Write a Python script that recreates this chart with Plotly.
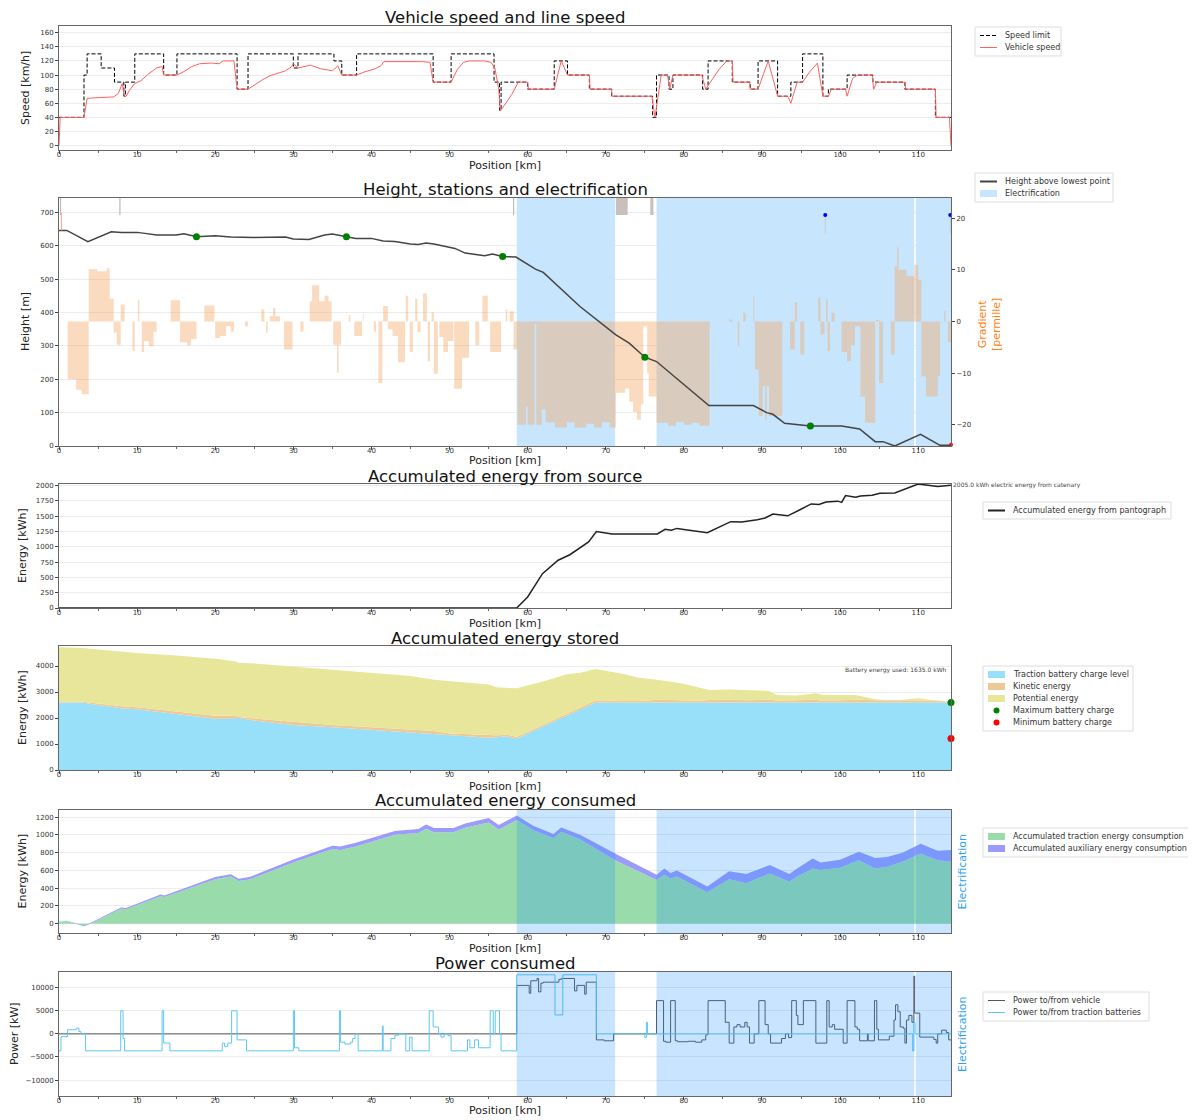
import plotly.graph_objects as go

# Page body has an 8px margin: the figure is laid out in reference pixels shifted by OFF.
OFF = 8
FW, FH = 1188, 1112
X0, X1 = 59, 951
XMAX = 114.2
FONT = "DejaVu Sans"

# ---------------- DATA ----------------
# Panel 1: speed limit (step) and vehicle speed, (km, km/h)
speed_limit = [(0, 40), (3.2, 100), (3.6, 130), (5.4, 110), (7.1, 90), (8.3, 70), (8.5, 90), (9.7, 130),
               (13.4, 100), (15.1, 130), (22.8, 80), (24.2, 130), (30.0, 110), (30.6, 130), (35.2, 120),
               (36.2, 100), (38.1, 130), (47.9, 90), (50.2, 130), (55.7, 90), (56.4, 50), (56.6, 90),
               (60.0, 80), (63.4, 120), (65.1, 100), (67.9, 80), (70.75, 70), (76.0, 40), (76.5, 100),
               (78.1, 80), (78.6, 100), (82.4, 80), (83.1, 120), (86.2, 90), (88.5, 80), (89.5, 120),
               (92.0, 70), (93.7, 90), (95.2, 130), (97.8, 70), (98.5, 80), (100.9, 100), (104.2, 90),
               (108.3, 80), (112.2, 40), (114.2, 40)]
vehicle_speed = [(0, 0), (0.15, 40), (3.2, 40), (3.6, 67), (5.0, 68), (7.0, 69), (7.6, 74), (8.1, 88),
                 (8.35, 70), (8.6, 70), (9.0, 78), (9.7, 88), (10.5, 92), (11.5, 102), (12.5, 110),
                 (13.2, 112), (13.4, 100), (15.1, 100), (16.0, 105), (17.0, 112), (18.0, 116), (19.5, 117),
                 (20.5, 116), (21.0, 120), (22.4, 120), (22.8, 80), (24.2, 80), (25.0, 86), (26.0, 93),
                 (27.0, 99), (28.0, 103), (29.0, 106), (29.8, 112), (30.0, 116), (30.6, 110), (31.5, 112),
                 (32.2, 114), (33.5, 109), (35.0, 106), (35.7, 113), (36.2, 100), (38.1, 100), (39.0, 104),
                 (40.5, 109), (41.2, 113), (41.6, 119), (42.5, 119), (44.0, 120), (45.5, 119), (46.5, 119),
                 (47.5, 118), (47.9, 90), (50.2, 90), (51.0, 108), (51.8, 118), (52.5, 120), (54.5, 120),
                 (55.3, 118), (55.8, 110), (56.3, 80), (56.5, 49), (57.3, 62), (58.0, 73), (58.8, 90),
                 (60.0, 90), (60.1, 80), (63.4, 80), (64.3, 120), (65.1, 100), (67.9, 100), (68.0, 80),
                 (70.75, 80), (70.8, 70), (75.9, 70), (76.3, 40), (77.1, 100), (77.9, 100), (78.2, 80),
                 (78.6, 100), (82.3, 100), (82.8, 80), (83.1, 85), (84.5, 108), (85.5, 120), (86.2, 120),
                 (86.3, 90), (88.4, 90), (88.5, 80), (89.5, 80), (90.8, 120), (92.0, 70), (93.3, 70),
                 (93.7, 60), (94.5, 90), (95.2, 90), (96.0, 103), (97.1, 117), (97.8, 70), (98.5, 70),
                 (98.9, 80), (100.7, 80), (100.9, 70), (101.6, 95), (102.2, 100), (104.1, 100), (104.3, 80),
                 (104.7, 90), (108.3, 90), (108.4, 80), (112.2, 80), (112.3, 40), (114.0, 40), (114.2, 0)]

# Panel 2: height profile (km, m), stations, gradient steps (km, permille), electrification
height = [(0, 646), (1, 646), (3.7, 612), (5, 625), (6.7, 642), (8, 640), (10, 640), (11, 637), (12.5, 632),
          (15, 632), (16, 636), (17.6, 627), (19, 628), (20, 630), (22, 626), (25, 625), (29, 626),
          (30, 620), (32, 619), (34, 632), (35, 635), (36.8, 627), (38, 622), (40, 622), (41.5, 614),
          (43, 613), (45, 605), (46, 604), (47, 608), (48, 605), (49.5, 597), (50.7, 592), (52, 578),
          (53.5, 574), (54.5, 570), (55.5, 575), (56.8, 568), (58.5, 566), (60, 545), (61, 530),
          (62, 520), (66.7, 418), (71.3, 333), (73.0, 308), (75.0, 266), (76.5, 253), (83.2, 121),
          (88.9, 121), (90.6, 100), (91.4, 95), (92.9, 68), (96.2, 60), (100.2, 60), (102.5, 51),
          (104.5, 13), (105.5, 13), (107.0, 0), (110.3, 35), (112.8, 2), (114.2, 2)]
stations = [(17.6, 627), (36.8, 627), (56.8, 568), (75.0, 266), (96.2, 60)]
gradient = [(0, 0), (1.1, -11.2), (2.2, -13.2), (2.9, -14.1), (3.8, 10.1), (4.9, 9.7), (6.1, 10.3), (6.5, 4.4),
            (7.0, -2.2), (7.4, -4.5), (7.9, 3.3), (8.4, 0), (9.4, -5.7), (9.7, 0), (10.1, 4.1), (10.3, 0),
            (10.6, -5.9), (10.9, -3.8), (11.5, -4.8), (12.1, -2.0), (12.5, 0), (14.3, 4.1), (15.5, -4.0),
            (16.4, -4.6), (16.9, -3.4), (17.6, 0), (18.6, 3.1), (19.9, 0), (20.0, -3.2), (20.6, -2.8),
            (21.4, -0.9), (22.0, -2.0), (22.4, 0), (23.8, -0.9), (24.2, 0), (25.9, 2.3), (26.3, 0),
            (26.5, -2.2), (26.7, 0), (27.0, 1.0), (27.4, 2.6), (27.7, 1.0), (28.3, 0), (28.8, -5.4),
            (29.9, 0), (30.9, -2.0), (31.3, 0), (32.1, 3.9), (32.4, 7.0), (33.3, 3.9), (34.0, 5.0),
            (34.5, 3.9), (34.9, 0), (35.1, -4.5), (35.6, -9.9), (35.8, -4.5), (36.1, 0), (37.1, 1.2),
            (37.3, 0), (37.8, -2.8), (38.8, 0), (38.9, 1.5), (39.0, 0), (40.3, -2.0), (40.6, 0),
            (40.9, -11.9), (41.4, 0), (41.5, 3.0), (42.1, -1.5), (42.7, -2.8), (43.4, -7.9), (44.3, 0),
            (44.4, 5.0), (44.7, 0), (44.9, -5.9), (45.3, 0), (45.6, 4.4), (45.9, -2.1), (46.3, 0),
            (46.6, 5.4), (47.1, 0), (47.2, -7.7), (47.5, 0), (47.7, 1.8), (48.0, -10.1), (48.5, 0),
            (48.7, -3.0), (49.2, -5.9), (49.8, -3.8), (50.5, 0), (50.6, -13.0), (51.6, -7.0), (52.5, 0),
            (53.3, -4.6), (53.8, 0), (54.2, 5.0), (54.9, 0), (55.2, -5.9), (56.6, 0), (57.2, 2.3),
            (57.4, 0), (57.7, 2.0), (58.2, -5.4), (58.7, -20.0), (59.8, -16.4), (60.0, -20.0),
            (60.9, -0.5), (61.1, -20.0), (61.8, -17.0), (62.3, -19.5), (63.5, -20.5), (65.0, -19.5),
            (66.0, -20.5), (67.5, -19.8), (68.5, -20.5), (69.5, -19.5), (70.5, -20.5), (71.3, -13.8),
            (72.5, -13.0), (73.0, -15.5), (73.5, -17.5), (74.0, -19.0), (74.5, -16.0), (74.8, -0.9),
            (75.3, -10.0), (75.5, -14.5), (76.5, -19.6), (78.0, -20.2), (79.0, -19.4), (80.0, -20.0),
            (81.0, -19.6), (82.0, -20.2), (83.3, 0), (85.8, 0.4), (86.2, 0), (86.9, -4.8), (87.1, 0),
            (87.6, 1.7), (87.9, 0), (88.9, 5.0), (89.0, 0), (89.1, -9.3), (89.6, -18.3), (90.1, -12.5),
            (90.4, -19.0), (90.6, -12.5), (90.9, -18.3), (92.6, 0), (93.6, -5.4), (94.2, 3.7), (94.5, 0),
            (94.9, -6.4), (95.4, 0), (97.2, 4.6), (97.5, -2.5), (98.0, 0), (98.2, 4.3), (98.4, -5.7),
            (98.7, 0), (98.9, 1.7), (99.3, 0), (100.2, -5.9), (100.9, -7.7), (101.4, -4.6), (101.9, -0.9),
            (102.6, -14.5), (103.2, -19.6), (104.5, 0), (104.6, 0.3), (105.0, -11.9), (105.5, 0),
            (106.5, -6.4), (107.0, 10.7), (107.3, 14.3), (107.5, 10.0), (108.5, 8.8), (109.5, 11.0),
            (110.0, 8.1), (110.4, -10.6), (111.0, -14.5), (112.5, -10.6), (112.8, 0), (113.3, 2.0),
            (113.5, 0), (113.8, -4.0), (114.2, -4.0)]
elec_start = [58.6, 76.5, 109.7]
elec_end = [71.2, 109.5, 114.2]
signal_x = [98.1, 114.1]          # blue markers at top (gradient axis value 20.6)
signal_y = [20.6, 20.6]
top_tick_x = [0.2, 7.8, 58.2]     # thin grey marks at the top
top_block_start = [71.3, 75.7]
top_block_end = [72.8, 76.1]

# Panel 3: accumulated energy from pantograph (km, kWh)
pantograph = [(0, 0), (58.6, 0), (60.0, 180), (61.9, 560), (63.9, 780), (65.4, 870), (67.8, 1080),
              (68.8, 1250), (70.8, 1210), (76.6, 1210), (77.6, 1285), (78.4, 1270), (79.1, 1300),
              (83.0, 1230), (86.0, 1410), (87.4, 1405), (89.4, 1440), (90.4, 1470), (91.4, 1535),
              (93.3, 1505), (94.8, 1600), (96.3, 1700), (97.3, 1690), (98.2, 1730), (99.7, 1745),
              (100.2, 1725), (100.7, 1835), (102.0, 1810), (102.6, 1830), (104.1, 1840), (105.1, 1875),
              (107.0, 1880), (110.0, 2025), (111.0, 2010), (112.5, 1985), (114.2, 2005)]

# Panel 4: stored energy (kWh)
stored_x = [0, 3, 5, 8, 10, 15, 20, 22.5, 23, 25, 30, 35, 40, 45, 48, 50, 55, 56, 57.3, 58.6, 62, 65, 66.7,
            68.7, 71.8, 74.3, 76.8, 79.8, 81.8, 83.3, 85.8, 88.4, 90.9, 91.9, 94.4, 96.9, 97.9, 102, 104.5,
            107, 110, 112, 114.2]
battery = [2590, 2600, 2500, 2380, 2333, 2150, 1974, 1990, 2000, 1900, 1731, 1640, 1538, 1440, 1400, 1346,
           1244, 1260, 1300, 1209, 1677, 2090, 2325, 2600, 2600, 2600, 2600, 2600, 2600, 2600, 2600, 2600,
           2600, 2600, 2600, 2600, 2600, 2600, 2600, 2600, 2600, 2600, 2600]
kinetic = [20, 25, 60, 70, 80, 90, 110, 110, 40, 80, 110, 90, 110, 120, 100, 60, 120, 80, 60, 70, 60, 80, 80,
           80, 50, 50, 100, 80, 60, 90, 100, 80, 110, 60, 70, 100, 50, 100, 80, 70, 80, 70, 20]
potential = [2110, 2065, 2080, 2110, 2087, 2160, 2196, 2080, 2090, 2120, 2139, 2120, 2070, 2060, 1970, 2014,
             1926, 1840, 1810, 1862, 1663, 1510, 1339, 1205, 1068, 901, 762, 650, 520, 387, 400, 397, 330,
             225, 200, 249, 235, 185, 38, 0, 76, 10, 8]
battery_max = 2600.0
battery_min = 1209.0
battery_used = 1635.0
catenary_total = 2005.0

# Panel 5: accumulated consumption (kWh)
cons_x = [0, 1, 2, 3.2, 4, 8, 8.5, 13, 13.5, 20, 22, 23, 24.5, 30, 35, 36, 38, 43, 46, 47, 48, 50.5, 52, 55,
          56.3, 58.6, 60.7, 63.3, 64.3, 66.7, 71.2, 74.8, 76.5, 77.5, 78.3, 79.1, 83.0, 85.8, 88.0, 91.0,
          93.5, 94.5, 96.5, 97.5, 100.0, 102.4, 104.5, 106.0, 108.0, 110.3, 112.5, 114.2]
traction_cons = [20, 30, 5, -30, 0, 170, 160, 310, 300, 500, 530, 480, 500, 690, 840, 830, 870, 1000, 1020,
                 1070, 1030, 1030, 1080, 1140, 1060, 1166, 1054, 961, 1035, 950, 715, 565, 492, 550, 510,
                 530, 355, 500, 454, 566, 473, 530, 622, 603, 629, 715, 622, 640, 696, 790, 715, 696]
aux_cons = [3, 4, 5, 6, 7, 14, 14, 18, 18, 25, 27, 27, 28, 33, 38, 38, 40, 44, 45, 46, 46, 48, 49, 50, 50,
            52, 50, 48, 48, 50, 75, 60, 58, 70, 60, 68, 64, 90, 106, 94, 87, 90, 113, 87, 91, 95, 118, 110,
            104, 110, 105, 134]

# Panel 6: power (kW), step data (km, kW)
battery_power = [(0, -3675), (0.25, -600), (1.1, 900), (2.2, 1250), (2.55, 500), (2.8, 0), (3.4, -3675),
                 (7.9, 5000), (8.2, -1000), (8.4, -3675), (13.2, 5000), (13.4, -2000), (14.2, -3675),
                 (20.9, -2000), (21.2, -2700), (21.6, -2000), (22.1, 5000), (22.8, -1300), (24.0, -3675),
                 (30.0, 5000), (30.15, -3000), (30.7, -3675), (35.9, 5000), (36.05, -1800), (36.6, -2200),
                 (37.3, -1800), (37.6, -1000), (37.9, 0), (38.3, -3675), (41.4, 1700), (41.5, -3675),
                 (42.5, -1000), (43.0, -300), (43.5, 0), (44.4, -3675), (44.9, -700), (45.2, -3675),
                 (47.4, 5000), (47.9, 1500), (48.6, 0), (48.9, -700), (49.3, 0), (49.8, -400),
                 (50.2, -3675), (52.3, -1300), (52.6, -3000), (53.2, -1300), (53.7, -3000), (55.2, 5000),
                 (55.6, 0), (55.85, 5000), (56.4, 0), (56.6, -3675), (58.6, 12800), (63.5, 4100),
                 (64.5, 12800), (68.8, 0), (75.0, -800), (75.2, 2500), (75.35, 0), (109.3, -3700),
                 (109.45, 2500), (109.6, 0), (114.2, 0)]
vehicle_power = [(0, 0), (58.6, 10500), (60.2, 8800), (60.4, 11500), (61.2, 12000), (61.4, 9100),
                 (61.7, 11000), (62.0, 11200), (64.0, 11800), (64.3, 12000), (66.0, 9300), (66.3, 10500),
                 (67.3, 8600), (67.5, 11200), (68.8, -1300), (69.8, -1500), (71.0, 0), (76.5, 7200),
                 (77.4, -1600), (77.7, -1800), (78.3, 7200), (78.9, -1500), (79.2, -1700), (80.5, -1600),
                 (81.5, -1800), (82.3, -1300), (82.8, -200), (83.1, 7200), (85.3, 2500), (85.8, -2000),
                 (86.4, 1500), (86.8, 2000), (87.2, 1500), (87.8, 2500), (88.1, 1500), (88.4, -2000),
                 (89.0, 0), (89.6, 7200), (90.4, 2000), (90.8, 0), (91.1, -2000), (92.5, -1000), (93.0, 0),
                 (93.4, -800), (93.8, 7200), (94.4, 4000), (94.6, 2000), (95.3, 7200), (96.9, -2000),
                 (98.3, 7200), (98.6, 1500), (99.0, 2000), (99.3, 1000), (100.4, -2000), (100.9, 7200),
                 (101.9, 1500), (102.2, 1000), (102.5, -1500), (103.5, 0), (103.6, -1500), (104.4, 7200),
                 (104.7, 1000), (104.9, -1300), (106.3, -500), (106.9, 3000), (107.1, 6300), (107.4, 4800),
                 (107.7, 1500), (108.1, 1200), (108.3, -2000), (108.5, 3000), (108.8, 4000), (109.2, 2500),
                 (109.45, 12500), (109.55, 4500), (110.2, -700), (112.0, -1200), (112.3, -2000),
                 (112.5, 0), (113.0, 800), (113.6, 300), (113.9, -1300), (114.2, -1300)]

# Axis ticks
x_ticks = list(range(0, 111, 10))
speed_ticks = list(range(0, 161, 20))
height_ticks = list(range(0, 701, 100))
grad_ticks = [-20, -10, 0, 10, 20]
source_ticks = list(range(0, 2001, 250))
stored_ticks = [0, 1000, 2000, 3000, 4000]
cons_ticks = list(range(0, 1201, 200))
power_ticks = [-10000, -5000, 0, 5000, 10000]

# Colours
C_LIMIT, C_SPEED = "black", "#ff6161"
C_HEIGHT, C_ELEC = "#444444", "rgb(199,229,252)"
C_GRAD = "rgba(244,164,96,0.4)"
C_PANT = "#222222"
C_BATT, C_KIN, C_POT = "#98dffa", "#efc995", "#e8e69a"
C_TRAC, C_AUX = "#99dbaa", "#9b9bfb"
C_ELEC_OVER = "rgba(30,144,255,0.24)"
C_VPOW, C_BPOW = "#555555", "#5cc8f2"


# ---------------- HELPERS ----------------
def PX(p):
    return (p - OFF) / FW


def PY(p):
    return 1 - (p - OFF) / FH


def xs(pairs):
    return [p[0] for p in pairs]


def ys(pairs):
    return [p[1] for p in pairs]


def band(starts, ends, lo, hi):
    bx, by = [], []
    for s, e in zip(starts, ends):
        bx += [s, s, e, e, s, None]
        by += [lo, hi, hi, lo, lo, None]
    return bx, by


PANELS = [(26, 150), (198, 446), (484, 608), (646, 770), (810, 933), (972, 1096)]
XDOM = [PX(X0), PX(X1)]
TICKFONT = dict(size=7, color="#333", family=FONT)


def xcfg(anchor):
    return dict(domain=XDOM, anchor=anchor, range=[0, XMAX], tickmode="array", tickvals=x_ticks,
                ticks="outside", ticklen=3, tickwidth=1, tickcolor="#444", tickfont=TICKFONT,
                ticklabelstandoff=-5,
                showline=True, linecolor="#666", linewidth=1, mirror=True, showgrid=False, zeroline=False,
                minor=dict(ticks="outside", ticklen=2, dtick=5, tick0=0, tickcolor="#666", showgrid=False))


def ycfg(panel, rng, tickvals, anchor, **kw):
    top, bottom = PANELS[panel]
    d = dict(domain=[PY(bottom), PY(top)], range=rng, tickmode="array", tickvals=tickvals, anchor=anchor,
             ticks="outside", ticklen=3, tickwidth=1, tickcolor="#444", tickfont=TICKFONT, tickformat="d",
             showline=True, linecolor="#666", linewidth=1, mirror=True, showgrid=True,
             gridcolor="#ececec", gridwidth=1, zeroline=False)
    d.update(kw)
    return d


fig = go.Figure()

# ---- Panel 1 ----
fig.add_trace(go.Scatter(x=xs(speed_limit), y=ys(speed_limit), mode="lines", line_shape="hv",
                         line=dict(color=C_LIMIT, width=1, dash="4px,2px"), name="Speed limit",
                         xaxis="x", yaxis="y"))
fig.add_trace(go.Scatter(x=xs(vehicle_speed), y=ys(vehicle_speed), mode="lines",
                         line=dict(color=C_SPEED, width=1), name="Vehicle speed", xaxis="x", yaxis="y"))

# ---- Panel 2 ----
GR = [-24.1, 23.9]
ex, ey = band(elec_start, elec_end, GR[0], GR[1])
fig.add_trace(go.Scatter(x=ex, y=ey, mode="lines", fill="toself", fillcolor=C_ELEC,
                         line=dict(width=0), name="Electrification", hoverinfo="skip", xaxis="x2", yaxis="y2"))
fig.add_trace(go.Scatter(x=xs(gradient), y=ys(gradient), mode="lines", line_shape="hv", fill="tozeroy",
                         fillcolor=C_GRAD, line=dict(width=0), name="Gradient", xaxis="x2", yaxis="y2"))
tbx, tby = band(top_block_start, top_block_end, 20.6, GR[1])
fig.add_trace(go.Scatter(x=tbx, y=tby, mode="lines", fill="toself", fillcolor="rgb(200,192,186)",
                         line=dict(width=0), xaxis="x2", yaxis="y2"))
ttx, tty = [], []
for t in top_tick_x:
    ttx += [t, t, None]
    tty += [20.6, GR[1], None]
fig.add_trace(go.Scatter(x=ttx, y=tty, mode="lines", line=dict(color="#bbbbbb", width=1.2), xaxis="x2", yaxis="y2"))
stx, sty = [], []
for sx, sy in zip(signal_x, signal_y):
    stx += [sx, sx, None]
    sty += [sy - 3.5, sy, None]
fig.add_trace(go.Scatter(x=stx, y=sty, mode="lines", line=dict(color="#cccccc", width=1), xaxis="x2", yaxis="y2"))
fig.add_trace(go.Scatter(x=signal_x, y=signal_y, mode="markers", marker=dict(color="blue", size=4),
                         cliponaxis=False, xaxis="x2", yaxis="y2"))
fig.add_trace(go.Scatter(x=xs(height), y=ys(height), mode="lines", line=dict(color=C_HEIGHT, width=1.5),
                         name="Height above lowest point", xaxis="x2", yaxis="y3"))
fig.add_trace(go.Scatter(x=xs(stations), y=ys(stations), mode="markers",
                         marker=dict(color="green", size=7), xaxis="x2", yaxis="y3"))
fig.add_trace(go.Scatter(x=[height[0][0] + 0.3, height[0][0] + 0.3], y=[height[0][1], height[0][1] + 52],
                         mode="lines", line=dict(color="#ff9999", width=1), xaxis="x2", yaxis="y3"))
fig.add_trace(go.Scatter(x=[height[-1][0]], y=[height[-1][1] + 2], mode="markers",
                         marker=dict(color="red", size=4), cliponaxis=False, xaxis="x2", yaxis="y3"))

# ---- Panel 3 ----
fig.add_trace(go.Scatter(x=xs(pantograph), y=ys(pantograph), mode="lines", line=dict(color=C_PANT, width=1.5),
                         name="Accumulated energy from pantograph", xaxis="x3", yaxis="y4"))

# ---- Panel 4 ----
for vals, col, nm in ((battery, C_BATT, "Traction battery charge level"), (kinetic, C_KIN, "Kinetic energy"),
                      (potential, C_POT, "Potential energy")):
    fig.add_trace(go.Scatter(x=stored_x, y=vals, mode="lines", stackgroup="s", fillcolor=col,
                             line=dict(width=0, color=col), name=nm, xaxis="x4", yaxis="y5"))
fig.add_trace(go.Scatter(x=[stored_x[-1]], y=[battery_max], mode="markers", marker=dict(color="green", size=7),
                         name="Maximum battery charge", cliponaxis=False, xaxis="x4", yaxis="y5"))
fig.add_trace(go.Scatter(x=[stored_x[-1]], y=[battery_min], mode="markers", marker=dict(color="red", size=7),
                         name="Minimum battery charge", cliponaxis=False, xaxis="x4", yaxis="y5"))

# ---- Panel 5 ----
fig.add_trace(go.Scatter(x=cons_x, y=traction_cons, mode="lines", stackgroup="c", fillcolor=C_TRAC,
                         line=dict(width=0, color=C_TRAC), name="Accumulated traction energy consumption",
                         xaxis="x5", yaxis="y6"))
fig.add_trace(go.Scatter(x=cons_x, y=aux_cons, mode="lines", stackgroup="c", fillcolor=C_AUX,
                         line=dict(width=0, color=C_AUX), name="Accumulated auxiliary energy consumption",
                         xaxis="x5", yaxis="y6"))
e5x, e5y = band(elec_start, elec_end, 0, 1)
fig.add_trace(go.Scatter(x=e5x, y=e5y, mode="lines", fill="toself", fillcolor=C_ELEC_OVER,
                         line=dict(width=0), hoverinfo="skip", xaxis="x5", yaxis="y7"))

# ---- Panel 6 ----
fig.add_trace(go.Scatter(x=xs(vehicle_power), y=ys(vehicle_power), mode="lines", line_shape="hv",
                         line=dict(color=C_VPOW, width=1), name="Power to/from vehicle", xaxis="x6", yaxis="y8"))
fig.add_trace(go.Scatter(x=xs(battery_power), y=ys(battery_power), mode="lines", line_shape="hv",
                         line=dict(color=C_BPOW, width=1), name="Power to/from traction batteries",
                         xaxis="x6", yaxis="y8"))
fig.add_trace(go.Scatter(x=e5x, y=e5y, mode="lines", fill="toself", fillcolor=C_ELEC_OVER,
                         line=dict(width=0), hoverinfo="skip", xaxis="x6", yaxis="y9"))

# ---------------- LAYOUT ----------------
layout = dict(
    width=FW, height=FH, margin=dict(l=0, r=0, t=0, b=0, autoexpand=False),
    paper_bgcolor="white", plot_bgcolor="white",
    font=dict(family=FONT, color="#222"), showlegend=False,
    xaxis=xcfg("y"), yaxis=ycfg(0, [-6.2, 169.5], speed_ticks, "x"),
    xaxis2=xcfg("y2"),
    yaxis2=ycfg(1, GR, grad_ticks, "x2", side="right", showgrid=False, mirror=False),
    yaxis3=ycfg(1, [0, 743], height_ticks, "x2", side="left", overlaying="y2", mirror=False),
    xaxis3=xcfg("y4"), yaxis4=ycfg(2, [0, 2025], source_ticks, "x3"),
    xaxis4=xcfg("y5"), yaxis5=ycfg(3, [0, 4770], stored_ticks, "x4"),
    xaxis5=xcfg("y6"), yaxis6=ycfg(4, [-105, 1280], cons_ticks, "x5"),
    yaxis7=dict(domain=[PY(PANELS[4][1]), PY(PANELS[4][0])], range=[0, 1], overlaying="y6",
                anchor="x5", side="right", showticklabels=False, showgrid=False, zeroline=False, ticks=""),
    xaxis6=xcfg("y8"), yaxis8=ycfg(5, [-13450, 13400], power_ticks, "x6"),
    yaxis9=dict(domain=[PY(PANELS[5][1]), PY(PANELS[5][0])], range=[0, 1], overlaying="y8",
                anchor="x6", side="right", showticklabels=False, showgrid=False, zeroline=False, ticks=""),
)
fig.update_layout(**layout)

titles = ["Vehicle speed and line speed", "Height, stations and electrification",
          "Accumulated energy from source", "Accumulated energy stored", "Accumulated energy consumed",
          "Power consumed"]
title_y = [18, 189, 476, 638, 800, 963]
xlabel_y = [165, 460, 623, 786, 948, 1110]
ylabels = ["Speed [km/h]", "Height [m]", "Energy [kWh]", "Energy [kWh]", "Energy [kWh]", "Power [kW]"]
ylabel_x = [25, 25, 22, 22, 22, 14]
ann, shapes = [], []


def txt(text, x, y, size, color="#222", angle=0, xanchor="center", yanchor="middle"):
    ann.append(dict(text=text, x=PX(x), y=PY(y), xref="paper", yref="paper", showarrow=False,
                    textangle=angle, font=dict(size=size, family=FONT, color=color),
                    xanchor=xanchor, yanchor=yanchor))


for i in range(6):
    top, bottom = PANELS[i]
    txt(titles[i], (X0 + X1) / 2, title_y[i], 16.5, "#111")
    txt("Position [km]", (X0 + X1) / 2, xlabel_y[i], 11)
    txt(ylabels[i], ylabel_x[i], (top + bottom) / 2, 11, angle=-90)
txt("Gradient<br>[permille]", 989, 325, 11, "#ff7f0e", angle=-90)
for pi in (4, 5):
    top, bottom = PANELS[pi]
    txt("Electrification", 962, (top + bottom) / 2, 11, "#2f9ff0", angle=-90)

small = dict(size=6, family=FONT, color="#444")
ann.append(dict(text="%.1f kWh electric energy from catenary" % catenary_total, x=XMAX, y=catenary_total,
                xref="x3", yref="y4", showarrow=False, font=small, xanchor="left", yanchor="middle"))
ann.append(dict(text="Battery energy used: %.1f kWh" % battery_used, x=XMAX - 0.2, y=3850, xref="x4",
                yref="y5", showarrow=False, font=small, xanchor="right", yanchor="middle"))
ann.append(dict(text="%.1f kWh" % battery_max, x=XMAX + 0.1, y=battery_max, xref="x4", yref="y5",
                showarrow=False, font=small, xanchor="left", yanchor="bottom"))
ann.append(dict(text="%.1f kWh" % battery_min, x=XMAX + 0.1, y=battery_min, xref="x4", yref="y5",
                showarrow=False, font=small, xanchor="left", yanchor="bottom"))

# ---- compact legends (matplotlib-style boxes) ----
legends = [
    (975, 27, 86, [("line", C_LIMIT, "Speed limit", "4px,2px", 1), ("line", C_SPEED, "Vehicle speed", None, 1)]),
    (975, 173, 138, [("line", C_HEIGHT, "Height above lowest point", None, 2), ("patch", C_ELEC, "Electrification")]),
    (983, 502, 188, [("line", C_PANT, "Accumulated energy from pantograph", None, 2)]),
    (983, 666, 150, [("patch", C_BATT, "Traction battery charge level"), ("patch", C_KIN, "Kinetic energy"),
                     ("patch", C_POT, "Potential energy"), ("marker", "green", "Maximum battery charge"),
                     ("marker", "red", "Minimum battery charge")]),
    (983, 828, 209, [("patch", C_TRAC, "Accumulated traction energy consumption"),
                     ("patch", C_AUX, "Accumulated auxiliary energy consumption")]),
    (983, 992, 166, [("line", C_VPOW, "Power to/from vehicle", None, 1),
                     ("line", C_BPOW, "Power to/from traction batteries", None, 1)]),
]
ROW = 12
for bx, by, bw, items in legends:
    bh = ROW * len(items) + 5
    shapes.append(dict(type="rect", xref="paper", yref="paper", x0=PX(bx), x1=PX(bx + bw), y0=PY(by + bh),
                       y1=PY(by), line=dict(color="#dddddd", width=1), fillcolor="rgba(255,255,255,0.9)",
                       layer="above"))
    for k, it in enumerate(items):
        yc = by + 8.5 + ROW * k
        kind, col, label = it[0], it[1], it[2]
        if kind == "line":
            shapes.append(dict(type="line", xref="paper", yref="paper", x0=PX(bx + 5), x1=PX(bx + 22),
                               y0=PY(yc), y1=PY(yc), line=dict(color=col, width=it[4], dash=it[3] or "solid"),
                               layer="above"))
        elif kind == "patch":
            shapes.append(dict(type="rect", xref="paper", yref="paper", x0=PX(bx + 5), x1=PX(bx + 22),
                               y0=PY(yc + 3.5), y1=PY(yc - 3.5), line=dict(width=0), fillcolor=col,
                               layer="above"))
        else:
            shapes.append(dict(type="circle", xref="paper", yref="paper", x0=PX(bx + 10.5), x1=PX(bx + 16.5),
                               y0=PY(yc + 3), y1=PY(yc - 3), line=dict(width=0), fillcolor=col, layer="above"))
        txt(label, bx + 28, yc, 8, "#333", xanchor="left")

fig.update_layout(annotations=ann, shapes=shapes)

fig.write_html("out.html")
